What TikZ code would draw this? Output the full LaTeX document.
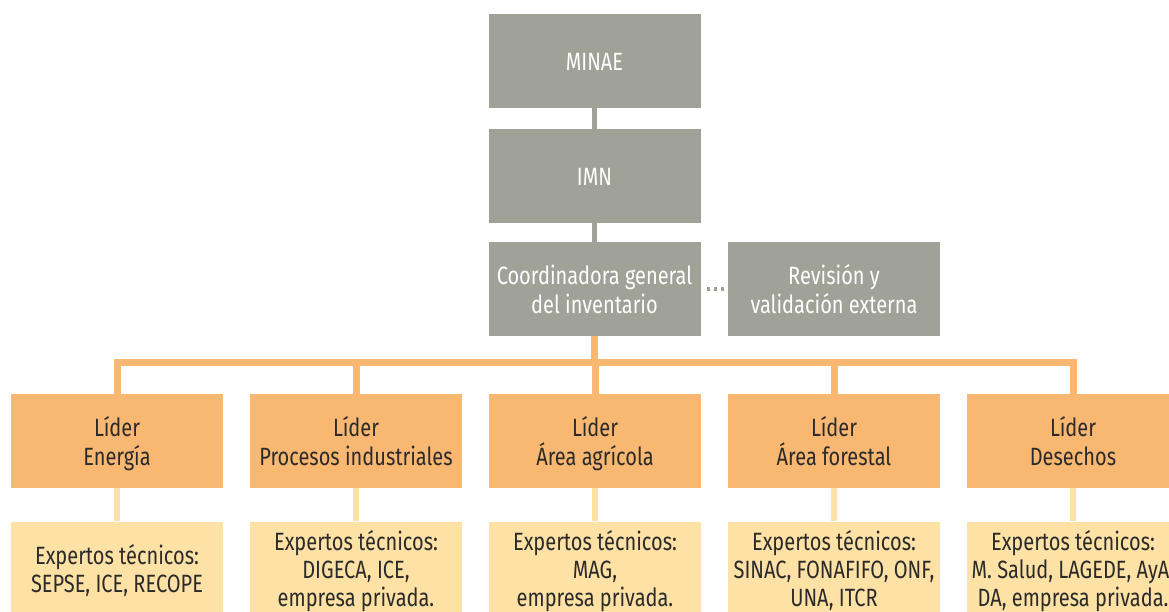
\documentclass[tikz,border=0pt]{standalone}
\usepackage{fontspec}
\setmainfont{Fira Sans}[FakeStretch=0.8]
\usetikzlibrary{calc}

\definecolor{boxgray}{HTML}{A0A298}
\definecolor{leadorange}{HTML}{F9B872}
\definecolor{expertyellow}{HTML}{FDE1A5}
\definecolor{textdark}{HTML}{2B2A29}

% line struts: first line and last line of a box
\newcommand{\topstrut}{\rule[-6pt]{0pt}{32pt}}
\newcommand{\botstrut}{\rule[-6pt]{0pt}{6pt}}

\begin{document}
\begin{tikzpicture}[
    x=1pt, y=1pt,
    box/.style={rectangle, fill=#1, minimum width=212pt, minimum height=94pt, inner sep=0pt, align=center, font=\fontsize{25}{29}\selectfont},
    graybox/.style={box=boxgray, text=white},
    leadbox/.style={box=leadorange, text=textdark},
    expertbox/.style={box=expertyellow, text=textdark, font=\fontsize{25}{28}\selectfont},
    grayline/.style={draw=boxgray, line width=5pt},
    orangeline/.style={draw=leadorange, line width=7pt},
    yellowline/.style={draw=expertyellow, line width=6pt},
    dotline/.style={draw=boxgray, line width=3.5pt, dash pattern=on 3.5pt off 3.5pt, shorten <=6pt, shorten >=4pt}
]
    \useasboundingbox (0,0) rectangle (1169,611);
    \clip (0,0) rectangle (1169,611);

    % Top of the structure
    \node[graybox] (minae) at (594.5,550) {\topstrut MINAE\botstrut};
    \node[graybox] (imn) at (594.5,435) {\topstrut IMN\botstrut};
    \node[graybox] (coord) at (594.5,322) {\topstrut Coordinadora general\\del inventario\botstrut};
    \node[graybox] (rev) at (834,322) {\topstrut Revisión y\\validación externa\botstrut};

    \draw[grayline] (minae) -- (imn);
    \draw[grayline] (imn) -- (coord);
    \draw[dotline] (coord) -- (rev);

    % Leaders and technical experts
    \foreach \i/\area/\expert in {
        1/Energía/{SEPSE, ICE, RECOPE},
        2/Procesos industriales/{DIGECA, ICE,\\empresa privada.},
        3/Área agrícola/{MAG,\\empresa privada.},
        4/Área forestal/{SINAC, FONAFIFO, ONF,\\UNA, ITCR},
        5/Desechos/{M. Salud, LAGEDE, AyA,\\DA, empresa privada.}} {
        \node[leadbox] (lead\i) at ({117+239*(\i-1)},170) {\topstrut Líder\\\area\botstrut};
        \node[expertbox] (exp\i) at ({117+239*(\i-1)},42.5) {\topstrut Expertos técnicos:\\\expert\botstrut};
        \draw[yellowline] (lead\i) -- (exp\i);
    }

    % Orange bus
    \coordinate (bus) at (594.5,249);
    \draw[orangeline] (coord) -- (coord |- bus);
    \draw[orangeline] (lead1.north) |- (bus) -| (lead5.north);
    \foreach \i in {2,3,4} {
        \draw[orangeline] (lead\i.north) -- (lead\i.north |- bus);
    }
\end{tikzpicture}
\end{document}
